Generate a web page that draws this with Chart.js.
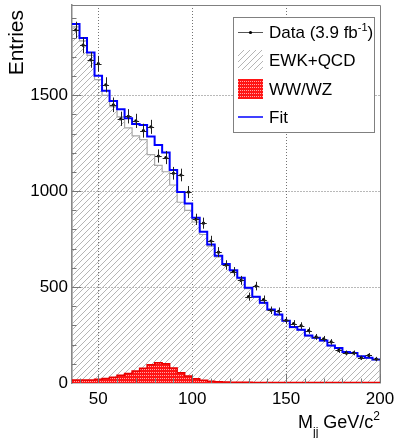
<!DOCTYPE html>
<html>
<head>
<meta charset="utf-8">
<script src="https://cdn.jsdelivr.net/npm/chart.js@4.4.0/dist/chart.umd.min.js"></script>
<style>
  html, body { margin: 0; padding: 0; background: #fff; }
</style>
</head>
<body>
<canvas id="mjj" width="397" height="438"></canvas>
<script>
// M_jj bin edges (GeV/c^2), 4 GeV bins
const massEdges = [36, 40, 44, 48, 52, 56, 60, 64, 68, 72, 76, 80, 84, 88, 92, 96, 100, 104, 108, 112,
  116, 120, 124, 128, 132, 136, 140, 144, 148, 152, 156, 160, 164, 168, 172, 176, 180, 184, 188, 192, 196, 200];

// entries per bin
const dataCounts = [1840, 1760, 1684, 1664, 1554, 1450, 1377, 1390, 1366, 1315, 1335, 1183, 1175, 1093, 1084, 995,
  853, 833, 740, 682, 615, 580, 535, 450, 505, 435, 379, 374, 327, 310, 299, 273, 240, 230, 214, 170, 157, 157, 131, 144, 125];
const ewkQcd = [1856, 1783, 1707, 1581, 1499, 1440, 1387, 1330, 1288, 1268, 1190, 1134, 1101, 1032, 942, 900,
  839, 774, 713, 657, 615, 584, 544, 492, 446, 415, 380, 354, 322, 289, 275, 244, 233, 219, 193, 180, 160, 155, 137, 129, 120];
const wwWz = [15, 15, 16, 20, 24, 30, 40, 50, 62, 77, 95, 106, 100, 78, 53, 36,
  22, 14, 9, 6, 5, 4, 4, 4, 3, 3, 3, 3, 3, 3, 3, 3, 3, 3, 3, 3, 2, 2, 2, 2, 2];
const fitTotal = [1871, 1798, 1723, 1601, 1523, 1470, 1427, 1380, 1350, 1345, 1285, 1240, 1201, 1110, 995, 936,
  861, 788, 722, 663, 620, 588, 548, 496, 449, 418, 383, 357, 325, 292, 278, 247, 236, 222, 196, 183, 162, 157, 139, 131, 122];

const xTickValues = [50, 100, 150, 200];
const yTickValues = [0, 500, 1000, 1500];

const FONT = "'Liberation Sans', Arial, Helvetica, sans-serif";

// histogram outline: up from 0 at first edge, steps, back down at the last edge
function histPoints(values, closed) {
  const last = massEdges.length - 1;
  const pts = closed ? [{ x: massEdges[0], y: 0 }] : [];
  values.forEach((v, i) => pts.push({ x: massEdges[i], y: v }));
  pts.push({ x: massEdges[last], y: values[values.length - 1] });
  if (closed) pts.push({ x: massEdges[last], y: 0 });
  return pts;
}

function hatchPattern() {
  const c = document.createElement('canvas');
  c.width = 6; c.height = 6;
  const g = c.getContext('2d');
  g.strokeStyle = '#adadad';
  g.lineWidth = 0.9;
  g.beginPath();
  g.moveTo(-1, 7); g.lineTo(7, -1);
  g.moveTo(-1, 1); g.lineTo(1, -1);
  g.moveTo(5, 7); g.lineTo(7, 5);
  g.stroke();
  return g.createPattern(c, 'repeat');
}

function redPattern() {
  const c = document.createElement('canvas');
  c.width = 4; c.height = 3;
  const g = c.getContext('2d');
  g.fillStyle = '#ff1414';
  g.fillRect(0, 0, 4, 3);
  g.fillStyle = '#ffa8a8';
  g.fillRect(0, 0, 1, 1);
  g.fillRect(2, 0, 1, 1);
  return g.createPattern(c, 'repeat');
}

const hatch = hatchPattern();
const redFill = redPattern();

// error bars, tick marks, frame, axis titles and the legend, ROOT style
const rootStyle = {
  id: 'rootStyle',
  afterDatasetsDraw(chart) {
    const { ctx, scales: { x, y } } = chart;
    ctx.save();
    ctx.strokeStyle = '#222';
    ctx.lineWidth = 1;
    dataCounts.forEach((n, i) => {
      const xc = x.getPixelForValue((massEdges[i] + massEdges[i + 1]) / 2);
      const x0 = x.getPixelForValue(massEdges[i]) + 0.5;
      const x1 = x.getPixelForValue(massEdges[i + 1]) - 0.5;
      const err = Math.sqrt(n);
      const yc = y.getPixelForValue(n);
      ctx.beginPath();
      ctx.moveTo(Math.round(xc) + 0.5, y.getPixelForValue(n + err));
      ctx.lineTo(Math.round(xc) + 0.5, y.getPixelForValue(n - err));
      ctx.moveTo(x0, Math.round(yc) + 0.5);
      ctx.lineTo(x1, Math.round(yc) + 0.5);
      ctx.stroke();
    });
    ctx.restore();
  },
  afterDraw(chart) {
    const { ctx, chartArea: a, scales: { x, y } } = chart;
    ctx.save();

    // frame
    ctx.strokeStyle = '#808080';
    ctx.lineWidth = 1;
    ctx.beginPath();
    ctx.moveTo(a.left, a.top + 0.5);
    ctx.lineTo(a.right + 0.5, a.top + 0.5);
    ctx.lineTo(a.right + 0.5, a.bottom);
    ctx.stroke();

    // tick marks pointing inwards
    ctx.strokeStyle = '#777';
    ctx.beginPath();
    for (let v = 100; v <= 1900; v += 100) {
      const py = Math.round(y.getPixelForValue(v)) + 0.5;
      ctx.moveTo(a.left, py);
      ctx.lineTo(a.left + (v % 500 === 0 ? 9 : 4.5), py);
    }
    for (let v = 40; v <= 200; v += 10) {
      const px = Math.round(x.getPixelForValue(v)) + 0.5;
      ctx.moveTo(px, a.bottom);
      ctx.lineTo(px, a.bottom - (v % 50 === 0 ? 9 : 4.5));
    }
    ctx.stroke();

    ctx.fillStyle = '#000';
    // y title
    ctx.save();
    ctx.translate(23, 10);
    ctx.rotate(-Math.PI / 2);
    ctx.font = '21px ' + FONT;
    ctx.textAlign = 'right';
    ctx.textBaseline = 'alphabetic';
    ctx.fillText('Entries', 0, 0);
    ctx.restore();

    // x title: M_jj GeV/c^2, right aligned to the axis end
    ctx.textBaseline = 'alphabetic';
    ctx.textAlign = 'left';
    const big = '18px ' + FONT, small = '12px ' + FONT;
    ctx.font = big;
    const wM = ctx.measureText('M').width;
    const wUnit = ctx.measureText(' GeV/c').width;
    ctx.font = small;
    const wjj = ctx.measureText('jj').width;
    const w2 = ctx.measureText('2').width;
    let tx = a.right - (wM + wjj + wUnit + w2);
    ctx.font = big;
    ctx.fillText('M', tx, 428); tx += wM;
    ctx.font = small;
    ctx.fillText('jj', tx, 436); tx += wjj;
    ctx.font = big;
    ctx.fillText(' GeV/c', tx, 428); tx += wUnit;
    ctx.font = small;
    ctx.fillText('2', tx, 420);

    // legend
    const lx = 233.5, ly = 17.5, lw = 141, lh = 115;
    ctx.fillStyle = '#fff';
    ctx.fillRect(lx, ly, lw, lh);
    ctx.strokeStyle = '#808080';
    ctx.lineWidth = 1;
    ctx.strokeRect(lx, ly, lw, lh);

    const sx0 = 238, sx1 = 263, textX = 269;
    const rowY = [32, 60, 89, 117];
    // data marker
    ctx.strokeStyle = '#555';
    ctx.beginPath();
    ctx.moveTo(sx0, rowY[0] + 0.5);
    ctx.lineTo(sx1, rowY[0] + 0.5);
    ctx.stroke();
    ctx.fillStyle = '#000';
    ctx.beginPath();
    ctx.arc((sx0 + sx1) / 2, rowY[0] + 0.5, 1.6, 0, Math.PI * 2);
    ctx.fill();
    // hatch box
    ctx.fillStyle = hatch;
    ctx.fillRect(sx0, rowY[1] - 10, sx1 - sx0, 20);
    // red box
    ctx.fillStyle = redFill;
    ctx.fillRect(sx0, rowY[2] - 10, sx1 - sx0, 20);
    // fit line
    ctx.strokeStyle = '#0000ff';
    ctx.lineWidth = 1.5;
    ctx.beginPath();
    ctx.moveTo(sx0, rowY[3]);
    ctx.lineTo(sx1, rowY[3]);
    ctx.stroke();

    ctx.fillStyle = '#000';
    ctx.font = '17px ' + FONT;
    let dx = textX;
    ctx.fillText('Data (3.9 fb', dx, rowY[0] + 6);
    dx += ctx.measureText('Data (3.9 fb').width;
    ctx.font = '11px ' + FONT;
    ctx.fillText('-1', dx, rowY[0] - 1);
    dx += ctx.measureText('-1').width;
    ctx.font = '17px ' + FONT;
    ctx.fillText(')', dx, rowY[0] + 6);
    ctx.fillText('EWK+QCD', textX, rowY[1] + 6);
    ctx.fillText('WW/WZ', textX, rowY[2] + 6);
    ctx.fillText('Fit', textX, rowY[3] + 6);

    ctx.restore();
  }
};

const gridColor = 'rgba(90,90,90,0.85)';

new Chart(document.getElementById('mjj').getContext('2d'), {
  type: 'line',
  data: {
    datasets: [
      {
        label: 'Data',
        type: 'scatter',
        data: dataCounts.map((n, i) => ({ x: (massEdges[i] + massEdges[i + 1]) / 2, y: n })),
        pointRadius: 1.6,
        pointBackgroundColor: '#000',
        pointBorderWidth: 0,
        showLine: false,
        order: 0
      },
      {
        label: 'Fit',
        data: histPoints(fitTotal, false),
        borderColor: '#0000ff',
        borderWidth: 2,
        stepped: 'before',
        pointRadius: 0,
        fill: false,
        order: 1
      },
      {
        label: 'WW/WZ',
        data: histPoints(wwWz, true),
        borderColor: '#e80000',
        borderWidth: 1.5,
        backgroundColor: redFill,
        fill: 'origin',
        stepped: 'before',
        pointRadius: 0,
        order: 2
      },
      {
        label: 'EWK+QCD',
        data: histPoints(ewkQcd, true),
        borderColor: '#a8a8a8',
        borderWidth: 1.2,
        backgroundColor: hatch,
        fill: 'origin',
        stepped: 'before',
        pointRadius: 0,
        order: 3
      }
    ]
  },
  options: {
    responsive: false,
    animation: false,
    layout: { padding: { left: 0, top: 5, right: 17, bottom: 0 } },
    plugins: {
      legend: { display: false },
      tooltip: { enabled: false }
    },
    scales: {
      x: {
        type: 'linear',
        min: 36,
        max: 200,
        afterBuildTicks: s => { s.ticks = xTickValues.map(v => ({ value: v })); },
        afterFit: s => { s.height = 55; s.paddingLeft = 0; s.paddingRight = 0; },
        ticks: {
          color: '#000', font: { family: FONT, size: 17 }, padding: 6, maxRotation: 0, autoSkip: false,
          callback: v => String(v)
        },
        grid: {
          drawTicks: false,
          lineWidth: 1,
          color: c => (c.tick && c.tick.value < 200) ? gridColor : 'rgba(0,0,0,0)'
        },
        border: { display: true, color: '#888', width: 1.5, dash: [1, 2] }
      },
      y: {
        type: 'linear',
        min: 0,
        max: 1970,
        afterBuildTicks: s => { s.ticks = yTickValues.map(v => ({ value: v })); },
        afterFit: s => { s.width = 72; s.paddingTop = 0; s.paddingBottom = 0; },
        ticks: {
          color: '#000', font: { family: FONT, size: 17 }, padding: 4,
          callback: v => String(v)
        },
        grid: {
          drawTicks: false,
          lineWidth: 1,
          color: c => (c.tick && c.tick.value > 0) ? gridColor : 'rgba(0,0,0,0)'
        },
        border: { display: true, color: '#888', width: 1.5, dash: [1, 2] }
      }
    }
  },
  plugins: [rootStyle]
});
</script>
</body>
</html>
